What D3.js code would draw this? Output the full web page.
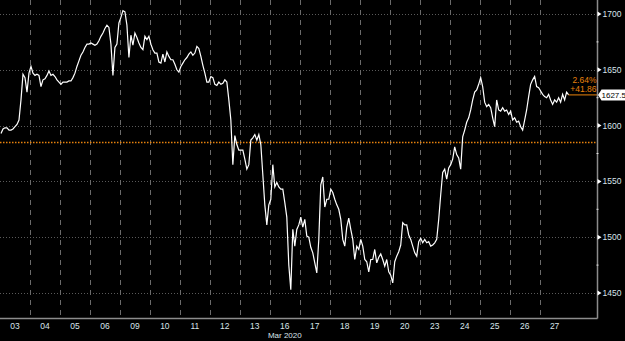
<!DOCTYPE html>
<html>
<head>
<meta charset="utf-8">
<script src="https://cdn.jsdelivr.net/npm/d3@7"></script>
<style>
  html, body { margin: 0; padding: 0; background: #000; }
  svg { display: block; }
  text { font-family: 'Liberation Sans', Arial, sans-serif; }
</style>
</head>
<body>
<svg id="chart" width="625" height="341"></svg>
<script>
const width = 625
const height = 341

// trading sessions shown on the x axis
const sessions = ['03', '04', '05', '06', '09', '10', '11', '12', '13', '16',
  '17', '18', '19', '20', '23', '24', '25', '26', '27']

// intraday prices, 15 readings per session
const prices = [
  [1593, 1597, 1598, 1598, 1596, 1596, 1597, 1599, 1601, 1605, 1623, 1646, 1643, 1630, 1647],
  [1653, 1647, 1645, 1646, 1645, 1635, 1641, 1642, 1645, 1649, 1645, 1646, 1644, 1641, 1639],
  [1637, 1639, 1639, 1639, 1640, 1640, 1643, 1647, 1653, 1658, 1663, 1666, 1670, 1673, 1673],
  [1674, 1673, 1672, 1673, 1676, 1680, 1683, 1687, 1690, 1688, 1673, 1645, 1670, 1673, 1692],
  [1697, 1703, 1702, 1690, 1661, 1681, 1672, 1683, 1679, 1674, 1670, 1668, 1680, 1677, 1680],
  [1673, 1668, 1665, 1665, 1657, 1656, 1664, 1657, 1666, 1662, 1659, 1659, 1655, 1650, 1648],
  [1653, 1656, 1659, 1661, 1664, 1666, 1663, 1665, 1671, 1669, 1662, 1654, 1647, 1639, 1639],
  [1644, 1643, 1637, 1636, 1639, 1637, 1638, 1641, 1639, 1623, 1605, 1565, 1591, 1583, 1578],
  [1578, 1578, 1570, 1561, 1565, 1587, 1589, 1592, 1587, 1592, 1583, 1556, 1529, 1511, 1529],
  [1534, 1565, 1545, 1549, 1545, 1543, 1543, 1531, 1518, 1475, 1453, 1507, 1492, 1507, 1511],
  [1518, 1509, 1516, 1501, 1500, 1491, 1486, 1477, 1468, 1498, 1547, 1554, 1527, 1534, 1534],
  [1543, 1540, 1534, 1529, 1525, 1516, 1498, 1492, 1509, 1517, 1507, 1498, 1480, 1492, 1489],
  [1498, 1492, 1480, 1478, 1469, 1480, 1480, 1489, 1477, 1482, 1485, 1480, 1474, 1480, 1469],
  [1466, 1459, 1478, 1483, 1487, 1493, 1513, 1511, 1511, 1502, 1498, 1492, 1486, 1483, 1496],
  [1499, 1495, 1498, 1495, 1496, 1492, 1493, 1495, 1498, 1516, 1538, 1558, 1561, 1552, 1562],
  [1565, 1570, 1581, 1574, 1571, 1561, 1590, 1596, 1603, 1607, 1614, 1623, 1630, 1632, 1637],
  [1643, 1635, 1621, 1617, 1619, 1616, 1607, 1599, 1623, 1614, 1613, 1616, 1613, 1614, 1610],
  [1613, 1605, 1607, 1603, 1604, 1599, 1596, 1605, 1614, 1626, 1637, 1641, 1644, 1635, 1634],
  [1631, 1628, 1626, 1625, 1628, 1623, 1619, 1623, 1621, 1625, 1621, 1628, 1623, 1630, 1627.5]
]

const yTicks = [1450, 1500, 1550, 1600, 1650, 1700]
const yMinorTicks = [1475, 1525, 1575, 1625, 1675]
const prevClose = 1585.64
const lastPrice = 1627.5
const changeLabels = ['2.64%', '+41.86']

const svg = d3.select('svg#chart')
svg.append('rect').attr('width', width).attr('height', height).attr('fill', '#000')

const plotRight = 597.5
const plotBottom = 318

const x = d3.scaleLinear()
  .domain([0, 19.93])
  .range([0, plotRight])

const y = d3.scaleLinear()
  .domain([1450, 1700])
  .range([293, 14])

// flatten sessions into (t, value) points
const points = []
prices.forEach((day, d) => {
  day.forEach((v, j) => {
    points.push({ t: d + (2 * j + 1) / 30, v })
  })
})

// horizontal dotted grid
svg.append('g')
  .selectAll('line')
  .data(yTicks)
  .join('line')
  .attr('x1', 0)
  .attr('x2', plotRight)
  .attr('y1', d => Math.round(y(d)) + 0.5)
  .attr('y2', d => Math.round(y(d)) + 0.5)
  .attr('stroke', '#5a5a5a')
  .attr('stroke-width', 1)
  .attr('stroke-dasharray', '1,2')

// vertical dashed session separators
svg.append('g')
  .selectAll('line')
  .data(d3.range(1, sessions.length))
  .join('line')
  .attr('x1', d => Math.round(x(d)) + 0.5)
  .attr('x2', d => Math.round(x(d)) + 0.5)
  .attr('y1', 0)
  .attr('y2', plotBottom)
  .attr('stroke', '#6a6a6a')
  .attr('stroke-width', 1)
  .attr('stroke-dasharray', '5,5')

// previous close
svg.append('line')
  .attr('x1', 0)
  .attr('x2', plotRight)
  .attr('y1', Math.round(y(prevClose)) + 0.5)
  .attr('y2', Math.round(y(prevClose)) + 0.5)
  .attr('stroke', '#e8820c')
  .attr('stroke-width', 1.3)
  .attr('stroke-dasharray', '1.5,1.5')

// price line
const line = d3.line()
  .x(d => x(d.t))
  .y(d => y(d.v))

svg.append('path')
  .datum(points)
  .attr('d', line)
  .attr('fill', 'none')
  .attr('stroke', '#fff')
  .attr('stroke-width', 1.2)
  .attr('stroke-linejoin', 'miter')

// last price leader
const last = points[points.length - 1]
svg.append('line')
  .attr('x1', x(last.t))
  .attr('x2', plotRight)
  .attr('y1', y(lastPrice))
  .attr('y2', y(lastPrice))
  .attr('stroke', '#e8820c')
  .attr('stroke-width', 1)

svg.selectAll('.chg')
  .data(changeLabels)
  .join('text')
  .attr('class', 'chg')
  .attr('x', plotRight - 1)
  .attr('y', (d, i) => y(lastPrice) - 12 + i * 9.5)
  .attr('text-anchor', 'end')
  .attr('font-size', 8.5)
  .attr('fill', '#e8820c')
  .text(d => d)

// axes frame
svg.append('line')
  .attr('x1', plotRight).attr('x2', plotRight)
  .attr('y1', 0).attr('y2', plotBottom + 0.5)
  .attr('stroke', '#8c8c8c')
  .attr('stroke-width', 1.5)
svg.append('line')
  .attr('x1', 0).attr('x2', plotRight)
  .attr('y1', plotBottom + 0.5).attr('y2', plotBottom + 0.5)
  .attr('stroke', '#8c8c8c')
  .attr('stroke-width', 1.5)

// right axis ticks and labels
const yAxis = svg.append('g')
yAxis.selectAll('path')
  .data(yTicks)
  .join('path')
  .attr('d', d => {
    const yy = y(d)
    return `M${plotRight},${yy - 2.5}L${plotRight + 4},${yy}L${plotRight},${yy + 2.5}Z`
  })
  .attr('fill', '#fff')
yAxis.selectAll('text')
  .data(yTicks)
  .join('text')
  .attr('x', plotRight + 5)
  .attr('y', d => y(d) + 3)
  .attr('font-size', 8.5)
  .attr('fill', '#d8e4ea')
  .text(d => d)
yAxis.selectAll('rect')
  .data(yMinorTicks)
  .join('rect')
  .attr('x', plotRight - 1)
  .attr('y', d => y(d) - 0.5)
  .attr('width', 2)
  .attr('height', 1)
  .attr('fill', '#ddd')

// last price flag
const flag = svg.append('g')
  .attr('transform', `translate(${plotRight + 0.5},${y(lastPrice)})`)
flag.append('path')
  .attr('d', 'M0,0L3.5,-5.5H27V5.5H3.5Z')
  .attr('fill', '#fff')
flag.append('text')
  .attr('x', 3.5)
  .attr('y', 3)
  .attr('font-size', 8)
  .attr('fill', '#000')
  .text(lastPrice)

// bottom axis labels
svg.append('g')
  .selectAll('text')
  .data(sessions)
  .join('text')
  .attr('x', (d, i) => x(i + 0.5))
  .attr('y', 329)
  .attr('text-anchor', 'middle')
  .attr('font-size', 8.5)
  .attr('fill', '#d8e4ea')
  .text(d => d)

svg.append('text')
  .attr('x', x(9.5))
  .attr('y', 338)
  .attr('text-anchor', 'middle')
  .attr('font-size', 8)
  .attr('fill', '#d8e4ea')
  .text('Mar 2020')
</script>
</body>
</html>
